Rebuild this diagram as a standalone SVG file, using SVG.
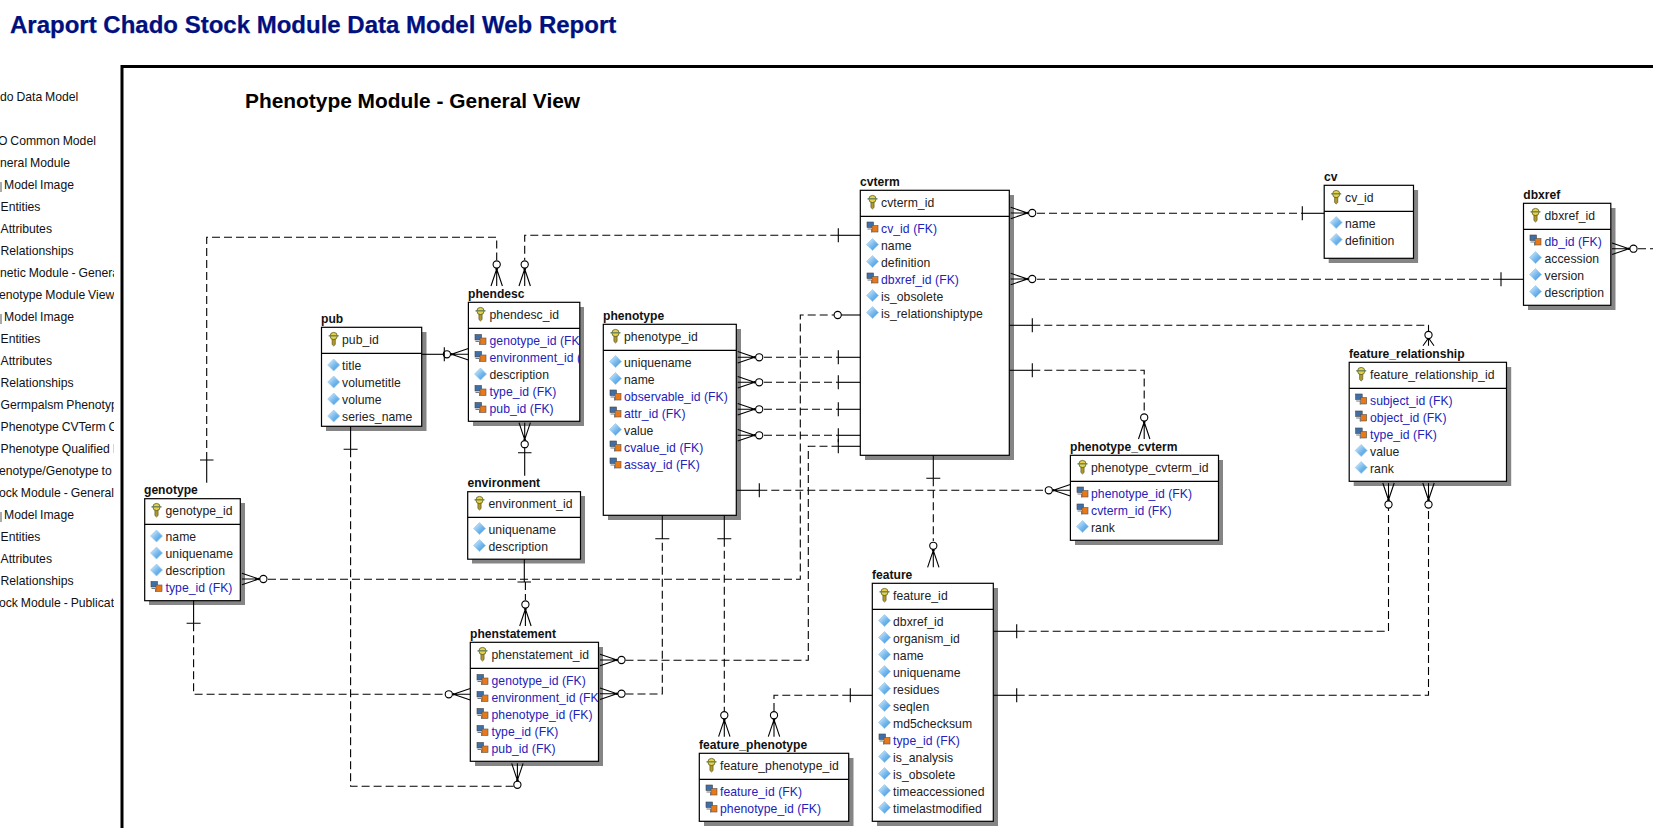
<svg xmlns="http://www.w3.org/2000/svg" xmlns:xlink="http://www.w3.org/1999/xlink" width="1653" height="828" viewBox="0 0 1653 828">
<style>
text{font-family:"Liberation Sans",Arial,sans-serif}
.title{font-size:24px;font-weight:bold;fill:#00107f;stroke:#00107f;stroke-width:.25}
.head{font-size:20.9px;font-weight:bold;fill:#000}
.side{font-size:12.2px;fill:#111;word-spacing:-.5px}
.lbl{font-size:12.1px;font-weight:bold;fill:#111}
.a{font-size:12.2px;fill:#222;letter-spacing:.05px}
.f{font-size:12.2px;fill:#2222bb;letter-spacing:.05px}
.box{fill:#fff;stroke:#000;stroke-width:1.2}
.sh{fill:#858585}
.sep{stroke:#000;stroke-width:1.2}
.c{fill:none;stroke:#000;stroke-width:1.1}
.d{fill:none;stroke:#000;stroke-width:1.1;stroke-dasharray:8 4}
</style>
<defs>
<linearGradient id="dg" x1="0" y1="0" x2="1" y2="1"><stop offset="0" stop-color="#e4f3fd"/><stop offset=".55" stop-color="#74b8ee"/><stop offset="1" stop-color="#3f8fd8"/></linearGradient>
<g id="crow"><path class="c" d="M0,-5.7L17,0M0,0H17M0,5.7L17,0"/><circle cx="17" r="1.3"/><circle cx="21.5" r="3.6" fill="#fff" stroke="#000" stroke-width="1.1"/></g>
<path id="bar" class="c" d="M0,-7V7"/>
<g id="ring"><circle r="3.6" fill="#fff" stroke="#000" stroke-width="1.1"/></g>
<g id="k"><path d="M-1.6,0H1.6V5.5L0,7L-1.6,5.5Z" fill="#b09a28" stroke="#4d4a20" stroke-width=".6"/><circle cx="0" cy="-3" r="3.6" fill="#e6d24a" stroke="#5a5a20" stroke-width=".8"/><path d="M-5,-3.2H5" stroke="#5f7f5a" stroke-width="1.3"/></g>
<g id="dm"><path d="M0,-6L6,0L0,6L-6,0Z" fill="url(#dg)" stroke="#9cc9ea" stroke-width=".7"/></g>
<g id="fk"><rect x="-5.5" y="-5.5" width="6.5" height="5.5" fill="#3f6fa8" stroke="#444" stroke-width=".6"/><rect x="-.5" y="-2" width="6" height="6.5" fill="#e87818" stroke="#555" stroke-width=".6"/><path d="M-5,1.5H-1V5" fill="none" stroke="#777" stroke-width="1"/></g>
<clipPath id="sc"><rect x="0" y="80" width="114" height="540"/></clipPath>
<clipPath id="pc"><rect x="468" y="300" width="111.5" height="125"/></clipPath>
<clipPath id="sc2"><rect x="470" y="640" width="128" height="125"/></clipPath>
</defs>
<rect width="1653" height="828" fill="#fff"/>
<text class="title" x="10" y="33">Araport Chado Stock Module Data Model Web Report</text>
<path d="M1653,66.5H122V828" fill="none" stroke="#000" stroke-width="3"/>
<text class="head" x="245" y="108">Phenotype Module - General View</text>
<g id="sidebar" clip-path="url(#sc)">
<rect x="0" y="182" width="2" height="10" fill="#aaa"/><rect x="0" y="314" width="2" height="10" fill="#aaa"/><rect x="0" y="512" width="2" height="10" fill="#aaa"/>
<text class="side" x="0" y="101">do Data Model</text>
<text class="side" x="-2" y="145">O Common Model</text>
<text class="side" x="0" y="167">neral Module</text>
<text class="side" x="4" y="189">Model Image</text>
<text class="side" x="0.5" y="211">Entities</text>
<text class="side" x="0.5" y="233">Attributes</text>
<text class="side" x="0.5" y="255">Relationships</text>
<text class="side" x="0" y="277">netic Module - General</text>
<text class="side" x="-1" y="299">enotype Module View</text>
<text class="side" x="4" y="321">Model Image</text>
<text class="side" x="0.5" y="343">Entities</text>
<text class="side" x="0.5" y="365">Attributes</text>
<text class="side" x="0.5" y="387">Relationships</text>
<text class="side" x="0.5" y="409">Germpalsm Phenotype</text>
<text class="side" x="0.5" y="431">Phenotype CVTerm C</text>
<text class="side" x="0.5" y="453">Phenotype Qualified I</text>
<text class="side" x="-1" y="475">enotype/Genotype to</text>
<text class="side" x="-1" y="497">ock Module - General</text>
<text class="side" x="4" y="519">Model Image</text>
<text class="side" x="0.5" y="541">Entities</text>
<text class="side" x="0.5" y="563">Attributes</text>
<text class="side" x="0.5" y="585">Relationships</text>
<text class="side" x="-1" y="607">ock Module - Publication</text>
</g>

<g id="pub">
<rect class="sh" x="326" y="332" width="100.5" height="99"/><rect class="box" x="321.5" y="327.3" width="100.2" height="99"/><path class="sep" d="M321.5,353.3H421.7"/>
<text class="lbl" x="321" y="323">pub</text>
<use href="#k" x="333.7" y="339"/><text class="a" x="342" y="344">pub_id</text>
<use href="#dm" x="333.7" y="365"/><text class="a" x="342" y="370">title</text>
<use href="#dm" x="333.7" y="382"/><text class="a" x="342" y="387">volumetitle</text>
<use href="#dm" x="333.7" y="399"/><text class="a" x="342" y="404">volume</text>
<use href="#dm" x="333.7" y="416"/><text class="a" x="342" y="421">series_name</text>
</g>

<g id="phendesc">
<rect class="sh" x="473" y="307" width="111" height="119"/><rect class="box" x="468.4" y="302.3" width="111.4" height="119"/><path class="sep" d="M468.4,328.3H579.8"/>
<text class="lbl" x="468" y="298">phendesc</text>
<use href="#k" x="480.5" y="314"/><text class="a" x="489.5" y="319">phendesc_id</text>
<g clip-path="url(#pc)">
<use href="#fk" x="480.5" y="340"/><text class="f" x="489.5" y="345">genotype_id (FK)</text>
<use href="#fk" x="480.5" y="357"/><text class="f" x="489.5" y="362">environment_id (FK)</text>
<use href="#dm" x="480.5" y="374"/><text class="a" x="489.5" y="379">description</text>
<use href="#fk" x="480.5" y="391"/><text class="f" x="489.5" y="396">type_id (FK)</text>
<use href="#fk" x="480.5" y="408"/><text class="f" x="489.5" y="413">pub_id (FK)</text>
</g></g>

<g id="phenotype">
<rect class="sh" x="608" y="329" width="133" height="191"/><rect class="box" x="603.3" y="324.3" width="133" height="191"/><path class="sep" d="M603.3,350.3H736.3"/>
<text class="lbl" x="603" y="320">phenotype</text>
<use href="#k" x="615.5" y="336"/><text class="a" x="624" y="341">phenotype_id</text>
<use href="#dm" x="615.5" y="361.5"/><text class="a" x="624" y="367">uniquename</text>
<use href="#dm" x="615.5" y="378.5"/><text class="a" x="624" y="384">name</text>
<use href="#fk" x="615.5" y="395.5"/><text class="f" x="624" y="401">observable_id (FK)</text>
<use href="#fk" x="615.5" y="412.5"/><text class="f" x="624" y="418">attr_id (FK)</text>
<use href="#dm" x="615.5" y="429.5"/><text class="a" x="624" y="435">value</text>
<use href="#fk" x="615.5" y="446.5"/><text class="f" x="624" y="452">cvalue_id (FK)</text>
<use href="#fk" x="615.5" y="463.5"/><text class="f" x="624" y="469">assay_id (FK)</text>
</g>

<g id="cvterm">
<rect class="sh" x="865" y="195" width="149" height="265"/><rect class="box" x="860.3" y="190.3" width="149" height="265"/><path class="sep" d="M860.3,216.3H1009.3"/>
<text class="lbl" x="860" y="186">cvterm</text>
<use href="#k" x="872.5" y="202"/><text class="a" x="881" y="207">cvterm_id</text>
<use href="#fk" x="872.5" y="227.5"/><text class="f" x="881" y="233">cv_id (FK)</text>
<use href="#dm" x="872.5" y="244.5"/><text class="a" x="881" y="250">name</text>
<use href="#dm" x="872.5" y="261.5"/><text class="a" x="881" y="267">definition</text>
<use href="#fk" x="872.5" y="278.5"/><text class="f" x="881" y="284">dbxref_id (FK)</text>
<use href="#dm" x="872.5" y="295.5"/><text class="a" x="881" y="301">is_obsolete</text>
<use href="#dm" x="872.5" y="312.5"/><text class="a" x="881" y="318">is_relationshiptype</text>
</g>

<g id="cv">
<rect class="sh" x="1328.7" y="190" width="89.4" height="73"/><rect class="box" x="1324.2" y="185.3" width="89.3" height="73"/><path class="sep" d="M1324.2,211.3H1413.5"/>
<text class="lbl" x="1324" y="181">cv</text>
<use href="#k" x="1336.2" y="197"/><text class="a" x="1345" y="202">cv_id</text>
<use href="#dm" x="1336.2" y="222.5"/><text class="a" x="1345" y="228">name</text>
<use href="#dm" x="1336.2" y="239.5"/><text class="a" x="1345" y="245">definition</text>
</g>

<g id="dbxref">
<rect class="sh" x="1528" y="208" width="87.5" height="102"/><rect class="box" x="1523.5" y="203.3" width="87.3" height="102"/><path class="sep" d="M1523.5,229.3H1610.8"/>
<text class="lbl" x="1523.3" y="199">dbxref</text>
<use href="#k" x="1535.5" y="215"/><text class="a" x="1544.5" y="220">dbxref_id</text>
<use href="#fk" x="1535.5" y="240.5"/><text class="f" x="1544.5" y="246">db_id (FK)</text>
<use href="#dm" x="1535.5" y="257.5"/><text class="a" x="1544.5" y="263">accession</text>
<use href="#dm" x="1535.5" y="274.5"/><text class="a" x="1544.5" y="280">version</text>
<use href="#dm" x="1535.5" y="291.5"/><text class="a" x="1544.5" y="297">description</text>
</g>

<g id="feature_relationship">
<rect class="sh" x="1353.7" y="367" width="157.5" height="119"/><rect class="box" x="1349.2" y="362.3" width="157.3" height="119"/><path class="sep" d="M1349.2,388.3H1506.5"/>
<text class="lbl" x="1349" y="358">feature_relationship</text>
<use href="#k" x="1361.2" y="374"/><text class="a" x="1370" y="379">feature_relationship_id</text>
<use href="#fk" x="1361.2" y="399.5"/><text class="f" x="1370" y="405">subject_id (FK)</text>
<use href="#fk" x="1361.2" y="416.5"/><text class="f" x="1370" y="422">object_id (FK)</text>
<use href="#fk" x="1361.2" y="433.5"/><text class="f" x="1370" y="439">type_id (FK)</text>
<use href="#dm" x="1361.2" y="450.5"/><text class="a" x="1370" y="456">value</text>
<use href="#dm" x="1361.2" y="467.5"/><text class="a" x="1370" y="473">rank</text>
</g>

<g id="phenotype_cvterm">
<rect class="sh" x="1075" y="460" width="148" height="85"/><rect class="box" x="1070.4" y="455.3" width="148.1" height="85"/><path class="sep" d="M1070.4,481.3H1218.5"/>
<text class="lbl" x="1070" y="451">phenotype_cvterm</text>
<use href="#k" x="1082.5" y="467"/><text class="a" x="1091" y="472">phenotype_cvterm_id</text>
<use href="#fk" x="1082.5" y="492.5"/><text class="f" x="1091" y="498">phenotype_id (FK)</text>
<use href="#fk" x="1082.5" y="509.5"/><text class="f" x="1091" y="515">cvterm_id (FK)</text>
<use href="#dm" x="1082.5" y="526.5"/><text class="a" x="1091" y="532">rank</text>
</g>

<g id="genotype">
<rect class="sh" x="149" y="503" width="96" height="102"/><rect class="box" x="144.7" y="498.7" width="95.6" height="102"/><path class="sep" d="M144.7,524.3H240.3"/>
<text class="lbl" x="144" y="494">genotype</text>
<use href="#k" x="156.5" y="510"/><text class="a" x="165.5" y="515">genotype_id</text>
<use href="#dm" x="156.5" y="536"/><text class="a" x="165.5" y="541">name</text>
<use href="#dm" x="156.5" y="553"/><text class="a" x="165.5" y="558">uniquename</text>
<use href="#dm" x="156.5" y="570"/><text class="a" x="165.5" y="575">description</text>
<use href="#fk" x="156.5" y="587"/><text class="f" x="165.5" y="592">type_id (FK)</text>
</g>

<g id="environment">
<rect class="sh" x="472" y="496" width="113" height="67.5"/><rect class="box" x="467.7" y="491.7" width="112.8" height="67.5"/><path class="sep" d="M467.7,517.3H580.5"/>
<text class="lbl" x="467.5" y="487">environment</text>
<use href="#k" x="479.5" y="503"/><text class="a" x="488.5" y="508">environment_id</text>
<use href="#dm" x="479.5" y="528.5"/><text class="a" x="488.5" y="534">uniquename</text>
<use href="#dm" x="479.5" y="545.5"/><text class="a" x="488.5" y="551">description</text>
</g>

<g id="phenstatement">
<rect class="sh" x="475" y="647" width="128" height="119"/><rect class="box" x="470.3" y="642.3" width="128.2" height="119"/><path class="sep" d="M470.3,668.3H598.5"/>
<text class="lbl" x="470" y="638">phenstatement</text>
<use href="#k" x="482.5" y="654"/><text class="a" x="491.5" y="659">phenstatement_id</text>
<g clip-path="url(#sc2)">
<use href="#fk" x="482.5" y="680"/><text class="f" x="491.5" y="685">genotype_id (FK)</text>
<use href="#fk" x="482.5" y="697"/><text class="f" x="491.5" y="702">environment_id (FK)</text>
<use href="#fk" x="482.5" y="714"/><text class="f" x="491.5" y="719">phenotype_id (FK)</text>
<use href="#fk" x="482.5" y="731"/><text class="f" x="491.5" y="736">type_id (FK)</text>
<use href="#fk" x="482.5" y="748"/><text class="f" x="491.5" y="753">pub_id (FK)</text>
</g></g>

<g id="feature">
<rect class="sh" x="877" y="588" width="121" height="238"/><rect class="box" x="872.3" y="583.3" width="121" height="238"/><path class="sep" d="M872.3,609.3H993.3"/>
<text class="lbl" x="872" y="579">feature</text>
<use href="#k" x="884.5" y="595"/><text class="a" x="893" y="600">feature_id</text>
<use href="#dm" x="884.5" y="620.5"/><text class="a" x="893" y="626">dbxref_id</text>
<use href="#dm" x="884.5" y="637.5"/><text class="a" x="893" y="643">organism_id</text>
<use href="#dm" x="884.5" y="654.5"/><text class="a" x="893" y="660">name</text>
<use href="#dm" x="884.5" y="671.5"/><text class="a" x="893" y="677">uniquename</text>
<use href="#dm" x="884.5" y="688.5"/><text class="a" x="893" y="694">residues</text>
<use href="#dm" x="884.5" y="705.5"/><text class="a" x="893" y="711">seqlen</text>
<use href="#dm" x="884.5" y="722.5"/><text class="a" x="893" y="728">md5checksum</text>
<use href="#fk" x="884.5" y="739.5"/><text class="f" x="893" y="745">type_id (FK)</text>
<use href="#dm" x="884.5" y="756.5"/><text class="a" x="893" y="762">is_analysis</text>
<use href="#dm" x="884.5" y="773.5"/><text class="a" x="893" y="779">is_obsolete</text>
<use href="#dm" x="884.5" y="790.5"/><text class="a" x="893" y="796">timeaccessioned</text>
<use href="#dm" x="884.5" y="807.5"/><text class="a" x="893" y="813">timelastmodified</text>
</g>

<g id="feature_phenotype">
<rect class="sh" x="704" y="758" width="149.5" height="68"/><rect class="box" x="699.3" y="753.3" width="149.4" height="68"/><path class="sep" d="M699.3,779.3H848.7"/>
<text class="lbl" x="699" y="749">feature_phenotype</text>
<use href="#k" x="711.5" y="765"/><text class="a" x="720" y="770">feature_phenotype_id</text>
<use href="#fk" x="711.5" y="790.5"/><text class="f" x="720" y="796">feature_id (FK)</text>
<use href="#fk" x="711.5" y="807.5"/><text class="f" x="720" y="813">phenotype_id (FK)</text>
</g>

<g id="connectors">
<path class="c" d="M421.7,354.3H444"/>
<use href="#crow" transform="translate(468.4,354.3) rotate(180)"/><use href="#bar" x="444.3" y="354.3"/>

<path class="d" d="M206.7,460V237.3H496.7V260"/><path class="c" d="M206.7,460V482.7M200,460H213.5"/>
<use href="#crow" transform="translate(496.7,286) rotate(-90)"/>
<path class="d" d="M838.3,235.3H524.7V260"/><path class="c" d="M838.3,235.3H860.3"/><use href="#bar" x="838.3" y="235.3"/>
<use href="#crow" transform="translate(524.7,286) rotate(-90)"/>

<use href="#crow" transform="translate(524.7,422.7) rotate(90)"/><path class="c" d="M524.7,447V475.7M518,452.7H531.5"/>

<path class="c" d="M524.3,559V582M517.5,582H531"/><path class="d" d="M525.4,582V600"/>
<use href="#crow" transform="translate(525.4,626) rotate(-90)"/>

<path class="c" d="M350.6,426.3V449.3M343.6,449.3H357.6"/><path class="d" d="M350.6,449.3V786.3H514"/>
<use href="#crow" transform="translate(517.4,763.3) rotate(90)"/>

<path class="c" d="M193.6,600.3V623.3M186.6,623.3H200.6"/><path class="d" d="M193.6,623.3V694.3H444"/>
<use href="#crow" transform="translate(470.3,694.3) rotate(180)"/>

<use href="#crow" transform="translate(241.9,579)"/><path class="d" d="M268,579.3H800.3V315H834"/><path class="c" d="M841,315H860.3"/><use href="#ring" x="837.7" y="315"/>

<use href="#crow" transform="translate(600,660)"/><path class="d" d="M625.5,660.3H808.3V446.3H838.3"/><path class="c" d="M838.3,446.3H860.3"/><use href="#bar" x="838.3" y="446.3"/>

<use href="#crow" transform="translate(600,693.7)"/><path class="d" d="M625.5,694H662.3V538.7"/><path class="c" d="M662.3,515.3V538.7M655.3,538.7H669.3"/>

<path class="c" d="M724.3,515.3V538.7M717.3,538.7H731.3"/><path class="d" d="M724.3,538.7V711"/>
<use href="#crow" transform="translate(724.3,736.7) rotate(-90)"/>
<path class="d" d="M774,711V695.3H850.3"/><path class="c" d="M850.3,695.3H872.3"/><use href="#bar" x="850.3" y="695.3"/>
<use href="#crow" transform="translate(774,736.7) rotate(-90)"/>

<use href="#crow" transform="translate(737.7,357.3)"/><path class="d" d="M764,357.3H838.3"/><path class="c" d="M838.3,357.3H860.3"/><use href="#bar" x="838.3" y="357.3"/>
<use href="#crow" transform="translate(737.7,382.3)"/><path class="d" d="M764,382.3H838.3"/><path class="c" d="M838.3,382.3H860.3"/><use href="#bar" x="838.3" y="382.3"/>
<use href="#crow" transform="translate(737.7,409.3)"/><path class="d" d="M764,409.3H838.3"/><path class="c" d="M838.3,409.3H860.3"/><use href="#bar" x="838.3" y="409.3"/>
<use href="#crow" transform="translate(737.7,435.3)"/><path class="d" d="M764,435.3H838.3"/><path class="c" d="M838.3,435.3H860.3"/><use href="#bar" x="838.3" y="435.3"/>

<path class="c" d="M736.3,490.3H759.3"/><use href="#bar" x="759.3" y="490.3"/><path class="d" d="M759.3,490.3H1043"/>
<use href="#crow" transform="translate(1070.3,490.3) rotate(180)"/>

<path class="c" d="M933.3,455.3V478.3M926.3,478.3H940.3"/><path class="d" d="M933.3,478.3V541"/>
<use href="#crow" transform="translate(933.3,567.3) rotate(-90)"/>

<use href="#crow" transform="translate(1010.7,213)"/><path class="d" d="M1037,213.3H1302.3"/><path class="c" d="M1302.3,213.3H1324.2"/><use href="#bar" x="1302.3" y="213.3"/>
<use href="#crow" transform="translate(1010.7,279)"/><path class="d" d="M1037,279.3H1501"/><path class="c" d="M1501,279.3H1523.5"/><use href="#bar" x="1501" y="279.3"/>

<path class="c" d="M1009.3,325.3H1032.3"/><use href="#bar" x="1032.3" y="325.3"/><path class="d" d="M1032.3,325.3H1428.5V331"/>
<path class="c" d="M1423,345.7L1428.5,338L1434,345.7M1428.5,338V345.7"/><use href="#ring" x="1428.5" y="335"/>

<path class="c" d="M1009.3,370.3H1032.3"/><use href="#bar" x="1032.3" y="370.3"/><path class="d" d="M1032.3,370.3H1144.2V413"/>
<use href="#crow" transform="translate(1144.2,439) rotate(-90)"/>

<use href="#crow" transform="translate(1612,248.7)"/><path class="d" d="M1638,248.7H1653"/>

<path class="c" d="M993.3,631.3H1016.7"/><use href="#bar" x="1016.7" y="631.3"/><path class="d" d="M1016.7,631.3H1388.5V508"/>
<use href="#crow" transform="translate(1388.5,483) rotate(90)"/>
<path class="c" d="M993.3,695.3H1016.7"/><use href="#bar" x="1016.7" y="695.3"/><path class="d" d="M1016.7,695.3H1428.5V508"/>
<use href="#crow" transform="translate(1428.5,483) rotate(90)"/>
</g>
</svg>
